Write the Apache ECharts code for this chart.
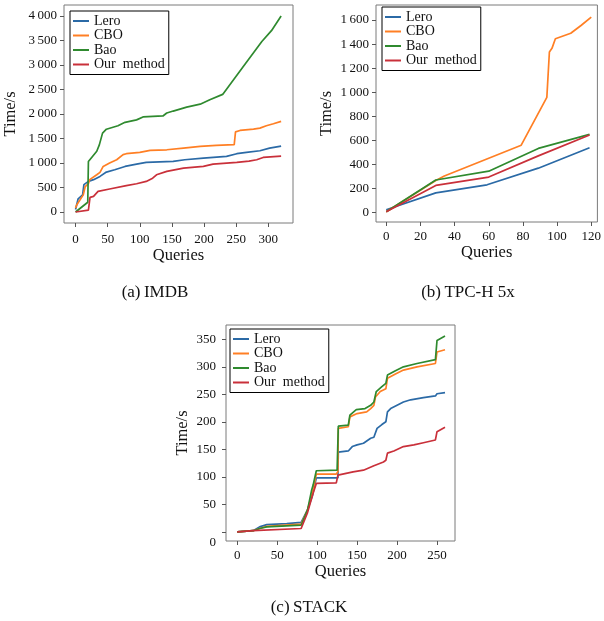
<!DOCTYPE html>
<html>
<head>
<meta charset="utf-8">
<script src="https://cdn.jsdelivr.net/npm/echarts@6/dist/echarts.min.js"></script>
<style>
  html, body { margin: 0; padding: 0; background: #fff; }
  #chart { width: 604px; height: 621px; }
</style>
</head>
<body>
<div id="chart"></div>
<script>
const seriesNames = ["Lero", "CBO", "Bao", "Our method"];
const seriesColors = ["#2b6aa6", "#ff7f24", "#2f8a2f", "#c9303a"];

// (a) IMDB  [query, cumulative time]
const imdbLero = [[0,50],[4,270],[11,350],[13,560],[20,625],[28,660],[38,727],[48,815],[61,863],[77,930],[95,978],[110,1012],[152,1033],[170,1066],[199,1100],[235,1134],[251,1190],[266,1216],[287,1250],[302,1304],[320,1345]];
const imdbCbo = [[0,80],[2,150],[7,250],[12,350],[15,520],[20,580],[22,660],[33,760],[38,810],[43,930],[53,1000],[64,1066],[74,1170],[79,1190],[100,1216],[116,1257],[142,1270],[168,1304],[194,1338],[219,1359],[247,1375],[249,1635],[256,1664],[277,1692],[287,1712],[297,1760],[308,1800],[320,1850]];
const imdbBao = [[0,0],[19,200],[20,1030],[33,1240],[37,1370],[42,1610],[48,1690],[66,1760],[77,1830],[95,1880],[105,1940],[136,1960],[142,2020],[152,2060],[173,2140],[194,2200],[209,2290],[229,2400],[260,2950],[290,3480],[305,3700],[320,4000]];
const imdbOurs = [[0,0],[20,40],[22,60],[22.5,300],[28,320],[35,420],[53,469],[79,537],[95,577],[110,625],[120,690],[126,760],[142,829],[168,897],[199,930],[214,978],[251,1012],[270,1040],[282,1066],[292,1114],[320,1140]];

// (b) TPC-H 5x
const tpchLero = [[0,25],[29,165],[59,232],[89,370],[119,540]];
const tpchCbo = [[0,8],[29,268],[34,305],[79,561],[94,958],[95.5,1335],[97,1365],[99,1445],[108,1490],[114,1555],[120,1625]];
const tpchBao = [[0,8],[29,272],[60,345],[89,534],[119,651]];
const tpchOurs = [[0,8],[29,227],[60,296],[89,472],[119,646]];

// (c) STACK
const stackLero = [[0,0],[20,2],[28,9],[37,13],[62,15],[80,17],[88,40],[94,65],[97,85],[99,98],[126,98],[126.5,145],[139,147],[144,155],[150,158],[158,161],[167,170],[171,172],[175,188],[181,195],[186,200],[188,218],[192,224],[200,230],[208,236],[217,240],[233,244],[248,247],[250,251],[260,253]];
const stackCbo = [[0,0],[20,2],[28,6],[37,10],[80,14],[88,40],[94,70],[97,90],[99,105],[124,105],[126,109],[126.5,188],[139,191],[141,209],[150,215],[162,218],[167,224],[171,230],[173,245],[179,255],[186,260],[188,279],[198,287],[208,294],[225,300],[248,306],[250,327],[260,331]];
const stackBao = [[0,0],[20,2],[28,6],[37,9],[80,12],[88,40],[93,75],[95,85],[99,111],[125,112],[126.5,192],[139,194],[141,212],[149,222],[160,224],[167,230],[171,236],[174,255],[181,264],[186,270],[188,285],[198,293],[208,300],[225,306],[248,313],[250,348],[260,356]];
const stackOurs = [[0,0],[20,2],[80,6],[88,35],[95,70],[99,88],[124,89],[126,103],[145,109],[158,112],[171,120],[183,127],[186,130],[188,143],[196,147],[208,155],[221,158],[233,162],[248,167],[250,182],[260,190]];

// tick values
const imdbXTicks = [0, 50, 100, 150, 200, 250, 300];
const imdbYTicks = [0, 500, 1000, 1500, 2000, 2500, 3000, 3500, 4000];
const tpchXTicks = [0, 20, 40, 60, 80, 100, 120];
const tpchYTicks = [0, 200, 400, 600, 800, 1000, 1200, 1400, 1600];
const stackXTicks = [0, 50, 100, 150, 200, 250];
const stackYTicks = [0, 50, 100, 150, 200, 250, 300, 350];

const captions = ["(a)\u2009IMDB", "(b)\u2009TPC-H 5x", "(c)\u2009STACK"];

const FONT = "Liberation Serif";

function thousands(v) {
  const s = String(v);
  return s.length > 3 ? s.slice(0, -3) + "\u2009" + s.slice(-3) : s;
}

function makeXAxis(idx, min, max, ticks, nameGap, labelMargin) {
  return {
    type: "value", gridIndex: idx, min: min, max: max,
    name: "Queries", nameLocation: "middle", nameGap: nameGap,
    nameTextStyle: { fontFamily: FONT, fontSize: 16.5, color: "#111" },
    axisLine: { show: false, onZero: false },
    axisTick: { show: true, length: 4, customValues: ticks, lineStyle: { color: "#555" } },
    axisLabel: { customValues: ticks, margin: labelMargin, fontFamily: FONT, fontSize: 13, color: "#111" },
    splitLine: { show: false },
  };
}

function makeYAxis(idx, min, max, ticks, labels, nameGap, labelMargin) {
  return {
    type: "value", gridIndex: idx, min: min, max: max,
    name: "Time/s", nameLocation: "middle", nameGap: nameGap, nameRotate: 90,
    nameTextStyle: { fontFamily: FONT, fontSize: 16.5, color: "#111" },
    axisLine: { show: false, onZero: false },
    axisTick: { show: true, length: 4, customValues: ticks, lineStyle: { color: "#555" } },
    axisLabel: { customValues: labels, margin: labelMargin, fontFamily: FONT, fontSize: 13, color: "#111", formatter: thousands },
    splitLine: { show: false },
  };
}

function makeLegend(left, top) {
  return {
    data: seriesNames,
    orient: "vertical", left: left, top: top,
    backgroundColor: "#fff", borderColor: "#000", borderWidth: 1, borderRadius: 0,
    padding: [3, 4, 3, 3],
    icon: "rect", itemWidth: 16, itemHeight: 2, itemGap: 0.5,
    textStyle: { fontFamily: FONT, fontSize: 14, lineHeight: 13, color: "#111" },
    formatter: (n) => n.replace(" ", "  "),
  };
}

function lineSeries(name, idx, data, color) {
  return {
    name: name, type: "line", xAxisIndex: idx, yAxisIndex: idx,
    data: data, symbol: "none", animation: false,
    lineStyle: { width: 1.7, color: color }, itemStyle: { color: color },
  };
}

const chart = echarts.init(document.getElementById("chart"));
const gridStyle = { show: true, borderColor: "#7a7a7a", borderWidth: 1, backgroundColor: "transparent" };

const allData = [
  [imdbLero, imdbCbo, imdbBao, imdbOurs],
  [tpchLero, tpchCbo, tpchBao, tpchOurs],
  [stackLero, stackCbo, stackBao, stackOurs],
];
const series = [];
allData.forEach((group, g) => {
  group.forEach((d, i) => series.push(lineSeries(seriesNames[i], g, d, seriesColors[i])));
});

const option = {
  animation: false,
  color: seriesColors,
  grid: [
    Object.assign({ left: 64, top: 5, width: 229, height: 218 }, gridStyle),
    Object.assign({ left: 376, top: 5, width: 227, height: 217 }, gridStyle),
    Object.assign({ left: 226, top: 325, width: 229, height: 216 }, gridStyle),
  ],
  xAxis: [
    makeXAxis(0, -18, 338.5, imdbXTicks, 21, 10),
    makeXAxis(1, -6, 123.6, tpchXTicks, 13, 8),
    makeXAxis(2, -14, 272.5, stackXTicks, 22, 8),
  ],
  yAxis: [
    makeYAxis(0, -224, 4224, imdbYTicks, imdbYTicks, 45, 7),
    makeYAxis(1, -77, 1725, tpchYTicks, tpchYTicks, 41, 7),
    makeYAxis(2, -16.7, 376, stackYTicks, stackYTicks.slice(1), 35, 10),
  ],
  legend: [makeLegend(70, 11), makeLegend(382, 7), makeLegend(230, 329)],
  graphic: [
    { type: "text", x: 216, y: 543, style: { text: "0", font: "13px " + FONT, fill: "#111", align: "right", verticalAlign: "middle" } },
    { type: "text", x: 155, y: 293, style: { text: captions[0], font: "17px " + FONT, fill: "#111", align: "center", verticalAlign: "middle" } },
    { type: "text", x: 468, y: 293, style: { text: captions[1], font: "17px " + FONT, fill: "#111", align: "center", verticalAlign: "middle" } },
    { type: "text", x: 309, y: 608, style: { text: captions[2], font: "17px " + FONT, fill: "#111", align: "center", verticalAlign: "middle" } },
  ],
  series: series,
};

chart.setOption(option);
window.addEventListener("resize", () => {
  chart.resize();
});
</script>
</body>
</html>
